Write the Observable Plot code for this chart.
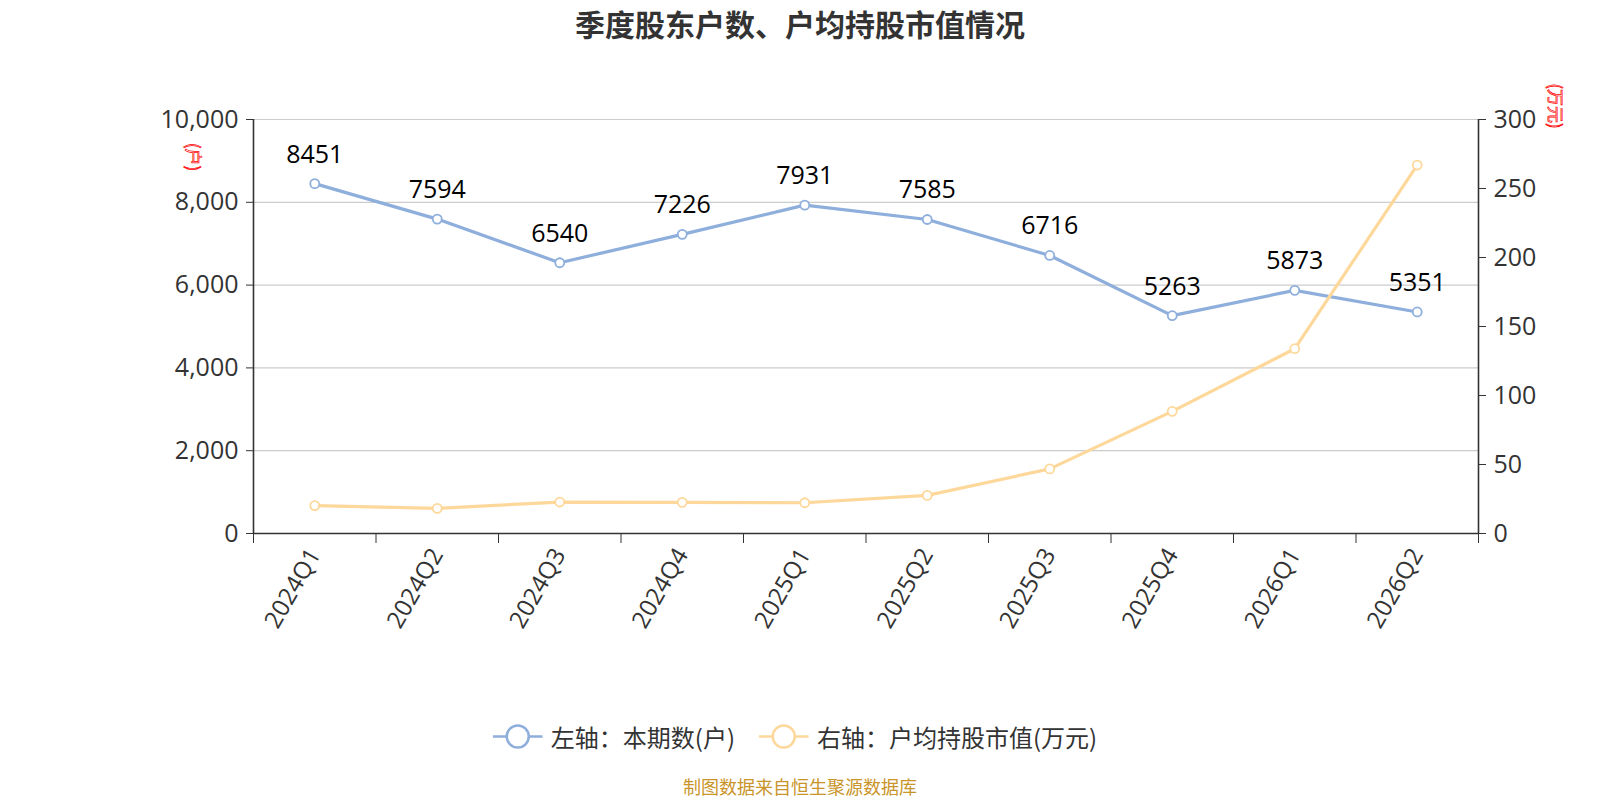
<!DOCTYPE html>
<html>
<head>
<meta charset="utf-8">
<script src="https://cdn.jsdelivr.net/npm/d3@7"></script>
<script src="https://cdn.jsdelivr.net/npm/@observablehq/plot@0.6"></script>
<style>
  html, body { margin: 0; padding: 0; background: #fff; }
  #wrap { position: relative; width: 1600px; height: 800px; overflow: hidden;
          font-family: "Open Sans", "Noto Sans CJK SC", sans-serif; }
  #chart { position: absolute; left: 0; top: 0; }
  .title { position: absolute; left: 800px; top: 23px; transform: translate(-50%, -50%);
           font-size: 30px; font-weight: bold; color: #333; white-space: nowrap;
           font-family: "Noto Sans CJK SC", sans-serif; }
  .unit { position: absolute; color: #fff; -webkit-text-stroke: 0.7px #f00; font-size: 17px;
          white-space: nowrap; font-family: "Noto Sans CJK SC", sans-serif; }
  .legend { position: absolute; left: 795px; top: 736px; transform: translate(-50%, -50%);
            display: flex; align-items: center; gap: 24px; font-size: 24px; color: #333; white-space: nowrap;
            font-family: "Noto Sans CJK SC", sans-serif; }
  .legend .item { display: flex; align-items: center; gap: 8px; }
  .footer { position: absolute; left: 800px; top: 786px; transform: translate(-50%, -50%);
            font-size: 18px; line-height: 22px; color: #c9952a; white-space: nowrap; font-family: "Noto Sans CJK SC", sans-serif; }
</style>
</head>
<body>
<div id="wrap"></div>
<script>
const quarters = ["2024Q1","2024Q2","2024Q3","2024Q4","2025Q1","2025Q2","2025Q3","2025Q4","2026Q1","2026Q2"];
const holders = [8451, 7594, 6540, 7226, 7931, 7585, 6716, 5263, 5873, 5351];
const avgValue = [20.2, 18.2, 22.8, 22.6, 22.3, 27.6, 46.8, 88.5, 133.9, 267.0];
const leftTicks = [0, 2000, 4000, 6000, 8000, 10000];
const rightTicks = [0, 50, 100, 150, 200, 250, 300];
const titleText = "季度股东户数、户均持股市值情况";
const leftName = "左轴：本期数(户)";
const rightName = "右轴：户均持股市值(万元)";
const leftUnit = "(户)";
const rightUnit = "(万元)";
const source = "制图数据来自恒生聚源数据库";

const blue = "#8eaedc";
const yellow = "#fdd89a";
const n = quarters.length;
const leftMax = leftTicks[leftTicks.length - 1];
const rightMax = rightTicks[rightTicks.length - 1];
const k = leftMax / rightMax;

const data = quarters.map((q, i) => ({q, xi: i + 0.5, holders: holders[i], avg: avgValue[i], avgScaled: avgValue[i] * k}));

const chart = Plot.plot({
  width: 1600,
  height: 800,
  marginTop: 119,
  marginBottom: 267,
  marginLeft: 253,
  marginRight: 122,
  style: {fontFamily: '"Open Sans", "Noto Sans CJK SC", sans-serif', color: "#333", background: "transparent"},
  x: {domain: [0, n], axis: null, label: null},
  y: {domain: [0, leftMax], axis: null, label: null},
  marks: [
    Plot.gridY(leftTicks.slice(1), {stroke: "#cccccc", strokeOpacity: 1, strokeWidth: 1.2}),
    Plot.ruleY([0], {stroke: "#333", strokeWidth: 1.6}),
    Plot.ruleX([0, n], {stroke: "#333", strokeWidth: 1.6}),
    Plot.axisY(leftTicks, {anchor: "left", label: null, tickSize: 7, tickPadding: 8, fontSize: 25, stroke: "#333", fill: "#333", tickFormat: d3.format(",")}),
    Plot.axisY(rightTicks.map(v => v * k), {anchor: "right", label: null, tickSize: 7, tickPadding: 8, fontSize: 25, fill: "#333", tickFormat: d => String(Math.round(d / k))}),
    Plot.axisX(d3.range(n + 1), {anchor: "bottom", label: null, tickSize: 10, tickFormat: () => "", stroke: "#333"}),
    Plot.axisX(data.map(d => d.xi), {anchor: "bottom", label: null, tickSize: 0, tickPadding: 17, tickRotate: -60, fontSize: 24, fill: "#333", tickFormat: x => quarters[Math.floor(x)]}),
    Plot.line(data, {x: "xi", y: "holders", stroke: blue, strokeWidth: 3.2}),
    Plot.dot(data, {x: "xi", y: "holders", r: 4.5, fill: "white", stroke: blue, strokeWidth: 1.8}),
    Plot.line(data, {x: "xi", y: "avgScaled", stroke: yellow, strokeWidth: 3.2}),
    Plot.dot(data, {x: "xi", y: "avgScaled", r: 4.5, fill: "white", stroke: yellow, strokeWidth: 1.8}),
    Plot.text(data, {x: "xi", y: "holders", text: d => String(d.holders), dy: -29, fontSize: 25, fill: "#000"})
  ]
});
chart.id = "chart";

const wrap = document.getElementById("wrap");
wrap.appendChild(chart);

function addDiv(cls, html, style) {
  const d = document.createElement("div");
  d.className = cls;
  d.innerHTML = html;
  if (style) Object.assign(d.style, style);
  wrap.appendChild(d);
  return d;
}
addDiv("title", titleText);
addDiv("unit", leftUnit, {left: "194px", top: "157px", transform: "translate(-50%,-50%) rotate(90deg)"});
addDiv("unit", rightUnit, {left: "1556px", top: "106px", transform: "translate(-50%,-50%) rotate(90deg)"});

function marker(color) {
  return `<svg width="50" height="28"><line x1="0" y1="14" x2="50" y2="14" stroke="${color}" stroke-width="2.5"/><circle cx="25" cy="14" r="11" fill="white" stroke="${color}" stroke-width="2.5"/></svg>`;
}
addDiv("legend", `<span class="item">${marker(blue)}<span>${leftName}</span></span><span class="item">${marker(yellow)}<span>${rightName}</span></span>`);
addDiv("footer", source);
</script>
</body>
</html>
